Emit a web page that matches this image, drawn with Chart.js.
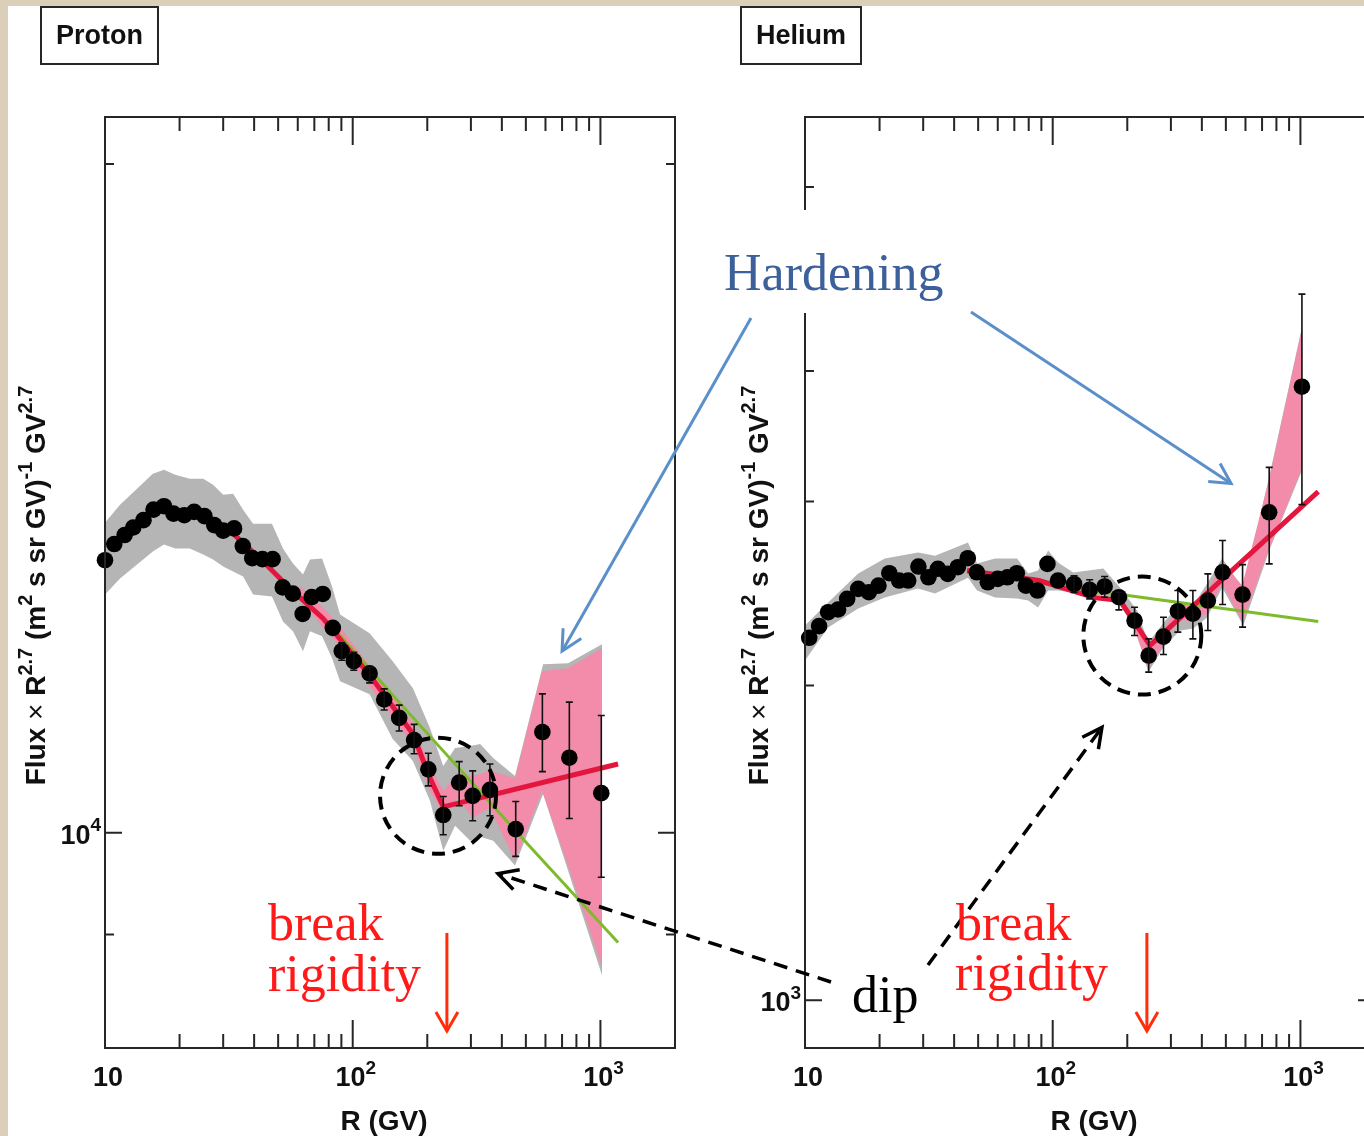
<!DOCTYPE html>
<html>
<head>
<meta charset="utf-8">
<title>Proton and Helium spectra</title>
<script src="https://cdn.jsdelivr.net/npm/chart.js"></script>
<style>
  body { margin: 0; background: #fff; }
  #page { position: relative; width: 1364px; height: 1136px; overflow: hidden; background: #fff; }
  #page canvas { position: absolute; top: 0; }
  #protonChart { left: 0; }
  #heliumChart { left: 690px; }
  #notes { left: 0; pointer-events: none; }
  .edge { position: absolute; background: #dbcfb9; }
</style>
</head>
<body>
<div id="page">
  <canvas id="protonChart" width="690" height="1136"></canvas>
  <canvas id="heliumChart" width="710" height="1136"></canvas>
  <canvas id="notes" width="1364" height="1136"></canvas>
  <div class="edge" style="left:0;top:0;width:1364px;height:6px"></div>
  <div class="edge" style="left:0;top:0;width:8px;height:1136px"></div>
</div>
<script>
// ---------- proton ----------
const protonR = [10.0, 10.9, 12.0, 13.0, 14.3, 15.7, 17.3, 18.9, 20.9, 22.9, 25.2, 27.6, 30.0, 33.2, 36.0, 39.3, 43.2, 47.5, 52.2, 57.3,
  62.8, 68.3, 75.7, 83.1, 90.3, 101, 117, 134, 154, 177, 202, 232, 269, 305, 358, 455, 583, 749, 1008];
const protonFlux = [13264, 13489, 13615, 13722, 13827, 13979, 14028, 13921, 13898, 13946, 13884, 13756, 13677, 13709, 13461, 13293, 13279, 13279, 12896, 12813,
  12546, 12768, 12808, 12366, 12072, 11947, 11796, 11481, 11264, 11008, 10680, 10185, 10534, 10390, 10454, 10038, 11100, 10809, 10419];
const protonErrLo = [null, null, null, null, null, null, null, null, null, null, null, null, null, null, null, null, null, null, null, null,
  null, null, null, null, 11957, 11835, 11681, 11356, 11112, 10854, 10498, 9979, 10283, 10125, 10177, 9758, 10654, 10149, 9549];
const protonErrHi = [null, null, null, null, null, null, null, null, null, null, null, null, null, null, null, null, null, null, null, null,
  null, null, null, null, 12176, 12057, 11872, 11608, 11414, 11189, 10859, 10382, 10765, 10662, 10739, 10329, 11548, 11450, 11293];

// total uncertainty band (grey) and fit uncertainty band (pink)
const protonBandR = [10, 11.5, 15.6, 17.3, 19.2, 22.0, 24.9, 27.3, 30.0, 32.9, 36.1, 39.6, 47.2, 52.3, 57.4, 63.0, 67.2, 75.2, 82.5, 88.9,
  117, 145, 175, 205, 232, 259, 298, 327, 369, 452, 587, 740, 1015];
const protonGreyHi = [13791, 14050, 14507, 14567, 14492, 14432, 14432, 14343, 14196, 14210, 13977, 13777, 13777, 13425, 13219, 13069, 13274, 13287, 12908, 12540,
  12296, 11945, 11617, 11146, 10717, 10918, 10941, 10963, 10806, 10607, 11908, 11921, 12157];
const protonGreyLo = [12802, 13015, 13384, 13481, 13425, 13425, 13342, 13274, 13178, 13110, 13042, 12802, 12775, 12449, 12322, 12070, 12322, 12258, 11983, 11701,
  11545, 11020, 10773, 10336, 9816, 10073, 9918, 9959, 9918, 9665, 10411, 9615, 8626];
const protonPinkR = [61.3, 75.2, 88.9, 117, 175, 205, 232, 266, 306, 358, 452, 581, 740, 1015];
const protonPinkHi = [12908, 12644, 12385, 11884, 11204, 10717, 10444, 10640, 10607, 10662, 10585, 11823, 11859, 12107];
const protonPinkLo = [12749, 12385, 12132, 11641, 10952, 10444, 10209, 10358, 10156, 10262, 9715, 10444, 9665, 8698];

// broken power law fit (red) and single power law (green)
const protonFitR = [32.9, 43.5, 55.8, 75.9, 118, 175, 205, 232, 1178];
const protonFit = [13635, 13246, 12882, 12488, 11762, 11077, 10585, 10272, 10739];
const protonPlR = [32.9, 43.5, 55.8, 82.5, 155, 520, 1178];
const protonPl = [13635, 13246, 12882, 12385, 11438, 9856, 8925];

// ---------- helium ----------
const heliumR = [10.4, 11.4, 12.4, 13.6, 14.8, 16.4, 18.1, 19.8, 21.9, 24.0, 26.1, 28.7, 31.5, 34.4, 37.7, 41.4, 45.4, 49.4, 54.7, 60.0,
  65.6, 71.6, 77.9, 86.8, 95.2, 105, 122, 141, 162, 185, 214, 244, 280, 320, 368, 423, 485, 584, 748, 1014];
const heliumFlux = [2222, 2280, 2351, 2365, 2421, 2475, 2457, 2493, 2562, 2521, 2521, 2600, 2539, 2587, 2558, 2596, 2648, 2567, 2511, 2530,
  2539, 2562, 2493, 2466, 2615, 2521, 2502, 2470, 2488, 2430, 2308, 2137, 2228, 2356, 2343, 2412, 2567, 2444, 2930, 3864];
const heliumErrLo = [null, null, null, null, null, null, null, null, null, null, null, null, null, null, null, null, null, null, null, null,
  null, null, null, null, null, null, 2455, 2421, 2430, 2363, 2233, 2060, 2142, 2250, 2217, 2258, 2391, 2275, 2615, 2980];
const heliumErrHi = [null, null, null, null, null, null, null, null, null, null, null, null, null, null, null, null, null, null, null, null,
  null, null, null, null, null, null, 2548, 2525, 2543, 2457, 2377, 2217, 2325, 2466, 2466, 2558, 2753, 2611, 3235, 4738];

const heliumBandR = [10, 12.4, 16.4, 21.0, 28.6, 33.5, 45.5, 49.5, 58.5, 71.8, 79.6, 87.3, 95.8, 105, 121, 160, 187, 219, 243, 279,
  327, 369, 420, 483, 588, 748, 1017];
const heliumGreyHi = [2283, 2402, 2560, 2646, 2681, 2663, 2741, 2617, 2646, 2646, 2560, 2577, 2693, 2623, 2566, 2588, 2482, 2360, 2199, 2293,
  2402, 2386, 2504, 2646, 2477, 3169, 4419];
const heliumGreyLo = [2114, 2273, 2370, 2428, 2477, 2450, 2537, 2466, 2428, 2423, 2412, 2375, 2466, 2466, 2455, 2439, 2386, 2258, 2059, 2175,
  2258, 2268, 2324, 2482, 2283, 2693, 3218];
const heliumPinkR = [185, 213, 243, 279, 321, 368, 424, 483, 582, 748, 1017];
const heliumPinkHi = [2444, 2334, 2185, 2258, 2386, 2386, 2466, 2623, 2493, 3155, 4400];
const heliumPinkLo = [2412, 2268, 2077, 2185, 2319, 2298, 2349, 2510, 2298, 2705, 3233];

const heliumFitR = [45.1, 88.1, 147, 187, 247, 1180];
const heliumFit = [2577, 2521, 2428, 2412, 2185, 3066];
const heliumPlR = [45.1, 89.0, 1180];
const heliumPl = [2566, 2504, 2303];

const breakR = 240;   // GV

// ---------- styling ----------
const INK = '#262626';
const GREY = '#b5b5b5';
const PINK = '#f38bab';
const RED = '#e3173e';
const GREEN = '#7dbb2c';
const SANS = '"Liberation Sans", Arial, sans-serif';
const SERIF = '"Liberation Serif", "Times New Roman", serif';

function pts(xs, ys) {
  return xs.map((x, i) => ({ x: x, y: ys[i] }));
}

function logTicks(min, max) {
  const out = [];
  for (let e = Math.floor(Math.log10(min)); e <= Math.ceil(Math.log10(max)); e++) {
    for (let k = 1; k <= 9; k++) {
      const v = k * Math.pow(10, e);
      if (v > min * 1.001 && v < max * 0.999) out.push({ v: v, major: k === 1 });
    }
  }
  return out;
}

function decades(min, max) {
  const out = [];
  for (let e = Math.ceil(Math.log10(min) - 1e-9); e <= Math.floor(Math.log10(max) + 1e-9); e++) out.push(e);
  return out;
}

// text with bold runs, regular runs and superscripts
function partFont(kind, size) {
  if (kind === 's') return 'bold ' + Math.round(size * 0.7) + 'px ' + SANS;
  if (kind === 'r') return size + 'px ' + SANS;
  return 'bold ' + size + 'px ' + SANS;
}
function richWidth(ctx, parts, size) {
  let w = 0;
  for (const [t, k] of parts) { ctx.font = partFont(k, size); w += ctx.measureText(t).width; }
  return w;
}
function drawRich(ctx, parts, x, y, size) {
  let cx = x;
  ctx.textAlign = 'left';
  ctx.textBaseline = 'alphabetic';
  for (const [t, k] of parts) {
    ctx.font = partFont(k, size);
    ctx.fillText(t, cx, k === 's' ? y - size * 0.46 : y);
    cx += ctx.measureText(t).width;
  }
}
function powerParts(e) {
  return e === 1 ? [['10', 'b']] : [['10', 'b'], [String(e), 's']];
}

const yTitle = [['Flux ', 'b'], ['\u00d7', 'r'], [' R', 'b'], ['2.7', 's'], [' (m', 'b'], ['2', 's'],
  [' s sr GV)', 'b'], ['-1', 's'], [' GV', 'b'], ['2.7', 's']];

// frame, inward ticks on all four sides, labels and the panel name box
const frameAxes = {
  id: 'frameAxes',
  afterDraw(chart, args, o) {
    const ctx = chart.ctx;
    const a = chart.chartArea;
    const x = chart.scales.x, y = chart.scales.y;
    ctx.save();
    ctx.strokeStyle = INK;
    ctx.lineWidth = 2;
    ctx.beginPath();
    for (const t of logTicks(x.min, x.max)) {
      const px = x.getPixelForValue(t.v);
      const len = t.major ? 28 : 14;
      ctx.moveTo(px, a.bottom); ctx.lineTo(px, a.bottom - len);
      ctx.moveTo(px, a.top); ctx.lineTo(px, a.top + len);
    }
    for (const t of logTicks(y.min, y.max)) {
      const py = y.getPixelForValue(t.v);
      const len = t.major ? 17 : 9;
      ctx.moveTo(a.left, py); ctx.lineTo(a.left + len, py);
      ctx.moveTo(a.right, py); ctx.lineTo(a.right - len, py);
    }
    ctx.stroke();
    ctx.strokeRect(a.left, a.top, a.right - a.left, a.bottom - a.top);

    ctx.fillStyle = '#111';
    for (const e of decades(x.min, x.max)) {
      const parts = powerParts(e);
      const w = richWidth(ctx, parts, 27);
      drawRich(ctx, parts, x.getPixelForValue(Math.pow(10, e)) + 3 - w / 2, a.bottom + 38, 27);
    }
    for (const e of decades(y.min, y.max)) {
      const parts = powerParts(e);
      const w = richWidth(ctx, parts, 27);
      drawRich(ctx, parts, a.left - 4 - w, y.getPixelForValue(Math.pow(10, e)) + 11, 27);
    }

    ctx.font = 'bold 28px ' + SANS;
    ctx.textAlign = 'center';
    ctx.fillText('R (GV)', (a.left + a.right) / 2 + o.xTitleShift, a.bottom + 82);

    ctx.save();
    ctx.translate(o.yTitleX, (a.top + a.bottom) / 2 + 3);
    ctx.rotate(-Math.PI / 2);
    const tw = richWidth(ctx, yTitle, 28);
    drawRich(ctx, yTitle, -tw / 2, 0, 28);
    ctx.restore();

    const [bx, by, bw, bh] = o.box;
    ctx.lineWidth = 2;
    ctx.strokeRect(bx, by, bw, bh);
    ctx.font = 'bold 27px ' + SANS;
    ctx.textAlign = 'center';
    ctx.fillText(o.name, bx + bw / 2, by + 37);
    ctx.restore();
  }
};

const errorBars = {
  id: 'errorBars',
  afterDatasetsDraw(chart, args, o) {
    const ctx = chart.ctx;
    const x = chart.scales.x, y = chart.scales.y;
    ctx.save();
    ctx.strokeStyle = '#111';
    ctx.lineWidth = 1.6;
    ctx.beginPath();
    o.r.forEach((r, i) => {
      if (o.lo[i] == null) return;
      const px = x.getPixelForValue(r);
      const y1 = y.getPixelForValue(o.lo[i]);
      const y2 = y.getPixelForValue(o.hi[i]);
      ctx.moveTo(px, y1); ctx.lineTo(px, y2);
      ctx.moveTo(px - 3.5, y1); ctx.lineTo(px + 3.5, y1);
      ctx.moveTo(px - 3.5, y2); ctx.lineTo(px + 3.5, y2);
    });
    ctx.stroke();
    ctx.restore();
  }
};

Chart.register(frameAxes, errorBars);

function makeChart(id, d) {
  const edge = { borderColor: 'rgba(0,0,0,0)', borderWidth: 0, pointRadius: 0 };
  return new Chart(document.getElementById(id), {
    type: 'line',
    data: {
      datasets: [
        Object.assign({ data: pts(d.bandR, d.greyHi), fill: false, order: 5 }, edge),
        Object.assign({ data: pts(d.bandR, d.greyLo), fill: '-1', backgroundColor: GREY, order: 5 }, edge),
        Object.assign({ data: pts(d.pinkR, d.pinkHi), fill: false, order: 4 }, edge),
        Object.assign({ data: pts(d.pinkR, d.pinkLo), fill: '-1', backgroundColor: PINK, order: 4 }, edge),
        { data: pts(d.plR, d.pl), borderColor: GREEN, borderWidth: 3, pointRadius: 0, fill: false, order: 3 },
        { data: pts(d.fitR, d.fit), borderColor: RED, borderWidth: 5, pointRadius: 0, fill: false, order: 2 },
        { data: pts(d.r, d.flux), showLine: false, pointRadius: 8.3, pointBackgroundColor: '#000',
          pointBorderWidth: 0, clip: false, order: 1 }
      ]
    },
    options: {
      responsive: false,
      animation: false,
      events: [],
      layout: { padding: d.padding },
      elements: { line: { tension: 0 } },
      scales: {
        x: { type: 'logarithmic', min: 10, max: 2000, display: false },
        y: { type: 'logarithmic', min: d.yMin, max: d.yMax, display: false }
      },
      plugins: {
        legend: { display: false },
        tooltip: { enabled: false },
        frameAxes: { name: d.name, box: d.box, yTitleX: d.yTitleX, xTitleShift: d.xTitleShift },
        errorBars: { r: d.r, lo: d.errLo, hi: d.errHi }
      }
    }
  });
}

const protonChart = makeChart('protonChart', {
  name: 'Proton', box: [41, 7, 117, 57], yTitleX: 45, xTitleShift: -6,
  padding: { left: 105, top: 117, right: 15, bottom: 88 }, yMin: 8000, yMax: 21000,
  r: protonR, flux: protonFlux, errLo: protonErrLo, errHi: protonErrHi,
  bandR: protonBandR, greyHi: protonGreyHi, greyLo: protonGreyLo,
  pinkR: protonPinkR, pinkHi: protonPinkHi, pinkLo: protonPinkLo,
  fitR: protonFitR, fit: protonFit, plR: protonPlR, pl: protonPl
});

const heliumChart = makeChart('heliumChart', {
  name: 'Helium', box: [51, 7, 120, 57], yTitleX: 78, xTitleShift: 4,
  padding: { left: 115, top: 117, right: 25, bottom: 88 }, yMin: 900, yMax: 7000,
  r: heliumR, flux: heliumFlux, errLo: heliumErrLo, errHi: heliumErrHi,
  bandR: heliumBandR, greyHi: heliumGreyHi, greyLo: heliumGreyLo,
  pinkR: heliumPinkR, pinkHi: heliumPinkHi, pinkLo: heliumPinkLo,
  fitR: heliumFitR, fit: heliumFit, plR: heliumPlR, pl: heliumPl
});

// ---------- call-outs drawn across both panels ----------
const notes = document.getElementById('notes').getContext('2d');

function at(chart, offX, r, f) {
  return [offX + chart.scales.x.getPixelForValue(r), chart.scales.y.getPixelForValue(f)];
}

function arrow(ctx, from, to, color, width, dash, head, spreadDeg) {
  const [x1, y1] = from, [x2, y2] = to;
  ctx.save();
  ctx.strokeStyle = color;
  ctx.lineWidth = width;
  ctx.setLineDash(dash);
  ctx.beginPath();
  ctx.moveTo(x1, y1);
  ctx.lineTo(x2, y2);
  ctx.stroke();
  ctx.setLineDash([]);
  ctx.lineJoin = 'miter';
  const ang = Math.atan2(y1 - y2, x1 - x2);
  const s = spreadDeg * Math.PI / 180;
  ctx.beginPath();
  ctx.moveTo(x2 + head * Math.cos(ang - s), y2 + head * Math.sin(ang - s));
  ctx.lineTo(x2, y2);
  ctx.lineTo(x2 + head * Math.cos(ang + s), y2 + head * Math.sin(ang + s));
  ctx.stroke();
  ctx.restore();
}

function dashedCircle(ctx, [cx, cy], r) {
  ctx.save();
  ctx.strokeStyle = '#000';
  ctx.lineWidth = 4;
  ctx.setLineDash([13, 8]);
  ctx.beginPath();
  ctx.arc(cx, cy, r, 0, Math.PI * 2);
  ctx.stroke();
  ctx.restore();
}

// label patch over the helium axis
notes.fillStyle = '#fff';
notes.fillRect(716, 210, 240, 103);
notes.fillStyle = '#3b609a';
notes.font = '52px ' + SERIF;
notes.textBaseline = 'alphabetic';
notes.fillText('Hardening', 724, 290);

arrow(notes, [751, 318], at(protonChart, 0, 700, 12070), '#5b8fca', 3, [], 23, 27);
arrow(notes, [971, 312], at(heliumChart, 690, 525, 3121), '#5b8fca', 3, [], 23, 28);

dashedCircle(notes, at(protonChart, 0, 221, 10390), 58);
dashedCircle(notes, at(heliumChart, 690, 230, 2233), 59);

notes.fillStyle = '#000';
notes.font = '52px ' + SERIF;
notes.fillText('dip', 852, 1012);
arrow(notes, [831, 982], at(protonChart, 0, 386, 9585), '#000', 3.5, [14, 9], 22, 28);
arrow(notes, [928, 965], at(heliumChart, 690, 158, 1824), '#000', 3.5, [14, 9], 22, 27);

// break rigidity markers
notes.fillStyle = '#ff1a1a';
notes.font = '52px ' + SERIF;
notes.fillText('break', 268, 940);
notes.fillText('rigidity', 268, 991);
notes.fillText('break', 956, 940);
notes.fillText('rigidity', 955, 990);
for (const [c, off] of [[protonChart, 0], [heliumChart, 690]]) {
  const bx = off + c.scales.x.getPixelForValue(breakR);
  arrow(notes, [bx, 933], [bx, 1031], '#ff2d0a', 3, [], 22, 30);
}
</script>
</body>
</html>
